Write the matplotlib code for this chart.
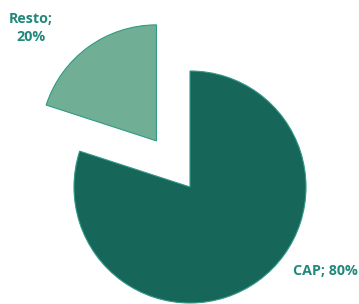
import matplotlib
matplotlib.use("Agg")
import matplotlib.pyplot as plt

categories = ["CAP", "Resto"]
values = [80, 20]
colors = ["#17665a", "#70ae96"]
text_color = "#23877a"

W, H = 359, 304
fig = plt.figure(figsize=(W / 100, H / 100), dpi=100)
ax = fig.add_axes([0, 0, 1, 1])

ax.pie(values, colors=colors, startangle=90, counterclock=False,
       center=(190, H - 187), radius=116, explode=[0, 57],
       wedgeprops=dict(edgecolor="#2f9a86", linewidth=0.8), frame=True)
ax.set_xlim(0, W)
ax.set_ylim(0, H)
ax.set_aspect("equal")
ax.axis("off")

fs = 10.3
fam = ["Open Sans", "DejaVu Sans"]
ax.text(325, H - 271, f"{categories[0]}; {values[0]}%", ha="center", va="center",
        fontsize=fs, fontweight="bold", color=text_color, family=fam)
ax.text(31, H - 28, f"{categories[1]};\n{values[1]}%", ha="center", va="center",
        fontsize=fs, fontweight="bold", color=text_color, family=fam,
        linespacing=1.35)

fig.savefig("out.png", dpi=100)
